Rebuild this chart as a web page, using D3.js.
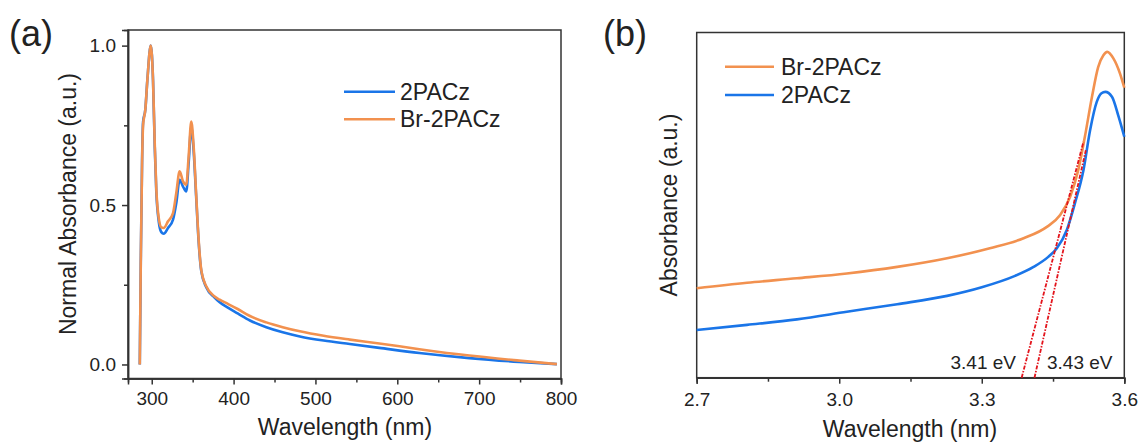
<!DOCTYPE html>
<html>
<head>
<meta charset="utf-8">
<title>Absorbance</title>
<script src="https://cdn.jsdelivr.net/npm/d3@7"></script>
<style>
  body { margin: 0; background: #fff; }
  svg { font-family: "Liberation Sans", Arial, sans-serif; }
  .axis path, .axis line { stroke: #333; stroke-width: 1.5; }
  .axis text { fill: #222; font-size: 19px; }
</style>
</head>
<body>
<div id="chart"></div>
<script>
// panel (a): normalised absorbance spectra
const wavelength = [285.4, 286.6, 288.2, 289.4, 292.2, 294.6, 298.8, 301.6, 303.7, 305.6, 308.5, 311.7, 314.6, 319.9, 326, 330, 334.1, 338.2, 342.2, 345.1, 348.3, 351.2, 354.4, 357.3, 360.5, 366.6, 376.8, 383, 393, 405, 420, 440, 460, 481, 510, 542, 578, 627, 688, 749, 795];
const abs2PACz = [0.0, 0.32, 0.64, 0.76, 0.80, 0.89, 1.0, 0.89, 0.68, 0.54, 0.45, 0.415, 0.41, 0.428, 0.454, 0.506, 0.579, 0.558, 0.543, 0.632, 0.745, 0.67, 0.52, 0.385, 0.293, 0.242, 0.21, 0.195, 0.178, 0.16, 0.138, 0.117, 0.101, 0.088, 0.075, 0.064, 0.052, 0.036, 0.020, 0.008, 0.001];
const absBr2PACz = [0.0, 0.32, 0.63, 0.75, 0.80, 0.89, 1.0, 0.89, 0.69, 0.55, 0.46, 0.43, 0.428, 0.449, 0.475, 0.538, 0.606, 0.574, 0.564, 0.653, 0.762, 0.684, 0.527, 0.391, 0.297, 0.245, 0.213, 0.203, 0.19, 0.174, 0.152, 0.132, 0.117, 0.104, 0.09, 0.078, 0.066, 0.048, 0.028, 0.012, 0.001];
const ticksA = [300, 400, 500, 600, 700, 800];

// panel (b): band edge region
const energyBr = [2.70, 2.806, 2.911, 3.016, 3.122, 3.227, 3.317, 3.388, 3.437, 3.465, 3.486, 3.503, 3.517, 3.532, 3.545, 3.556, 3.564, 3.577, 3.591, 3.60];
const edgeBr = [0.259, 0.275, 0.288, 0.302, 0.321, 0.346, 0.375, 0.404, 0.437, 0.471, 0.524, 0.601, 0.698, 0.814, 0.900, 0.934, 0.944, 0.925, 0.881, 0.84];
const energy2 = [2.70, 2.806, 2.911, 3.016, 3.122, 3.227, 3.30, 3.37, 3.409, 3.44, 3.458, 3.479, 3.496, 3.514, 3.528, 3.542, 3.552, 3.56, 3.574, 3.588, 3.60];
const edge2 = [0.138, 0.153, 0.169, 0.191, 0.213, 0.237, 0.262, 0.295, 0.321, 0.35, 0.375, 0.428, 0.505, 0.601, 0.717, 0.799, 0.824, 0.828, 0.814, 0.756, 0.698];
const tangentX = [[3.384, 3.514], [3.411, 3.519]];
const tangentY = [[0, 0.683], [0, 0.659]];
const gapLabels = ['3.41 eV', '3.43 eV'];
const ticksB = [2.7, 3.0, 3.3, 3.6];

const blue = '#1a75e8';
const orange = '#f2914f';

const svg = d3.select('#chart').append('svg')
  .attr('width', 1141)
  .attr('height', 443);

// ---------- (a) ----------
const xa = d3.scaleLinear().domain([271, 800]).range([128, 561]);
const ya = d3.scaleLinear().domain([-0.044, 1.049]).range([378.5, 30]);

svg.append('g').attr('class', 'axis')
  .attr('transform', 'translate(0,378.5)')
  .call(d3.axisBottom(xa).tickValues(d3.range(350, 800, 100)).tickSize(4).tickFormat(''));
svg.append('g').attr('class', 'axis')
  .attr('transform', 'translate(0,378.5)')
  .call(d3.axisBottom(xa).tickValues(ticksA).tickSize(6).tickPadding(7).tickFormat(d3.format('d')));
svg.append('g').attr('class', 'axis')
  .attr('transform', 'translate(128,0)')
  .call(d3.axisLeft(ya).tickValues([0.25, 0.75]).tickSize(4).tickFormat(''));
svg.append('g').attr('class', 'axis')
  .attr('transform', 'translate(128,0)')
  .call(d3.axisLeft(ya).tickValues([0, 0.5, 1.0]).tickSize(6).tickPadding(6).tickFormat(d3.format('.1f')));
svg.append('rect')
  .attr('x', 128).attr('y', 30).attr('width', 433).attr('height', 348.5)
  .attr('fill', 'none').attr('stroke', '#333').attr('stroke-width', 1.5);

const lineA = d3.line().curve(d3.curveMonotoneX)
  .x(d => xa(d[0])).y(d => ya(d[1]));
svg.append('path')
  .attr('d', lineA(d3.zip(wavelength, abs2PACz)))
  .attr('fill', 'none').attr('stroke', blue).attr('stroke-width', 2.6);
svg.append('path')
  .attr('d', lineA(d3.zip(wavelength, absBr2PACz)))
  .attr('fill', 'none').attr('stroke', orange).attr('stroke-width', 2.6);

const legA = [['2PACz', blue], ['Br-2PACz', orange]];
legA.forEach((d, i) => {
  const y = 91.7 + i * 27.5;
  svg.append('line').attr('x1', 344).attr('x2', 395).attr('y1', y).attr('y2', y)
    .attr('stroke', d[1]).attr('stroke-width', 2.6);
  svg.append('text').attr('x', 400).attr('y', y).attr('dy', '0.35em')
    .attr('font-size', 23).attr('fill', '#222').text(d[0]);
});

svg.append('text').attr('x', 345).attr('y', 435).attr('text-anchor', 'middle')
  .attr('font-size', 23).attr('fill', '#222').text('Wavelength (nm)');
svg.append('text').attr('transform', 'translate(76,204) rotate(-90)').attr('text-anchor', 'middle')
  .attr('font-size', 23).attr('fill', '#222').text('Normal Absorbance (a.u.)');
svg.append('text').attr('x', 9).attr('y', 46)
  .attr('font-size', 36).attr('fill', '#222').text('(a)');

// ---------- (b) ----------
const xb = d3.scaleLinear().domain([2.7, 3.6]).range([696.7, 1124.3]);
const yb = d3.scaleLinear().domain([0, 1]).range([377.7, 32.5]);

svg.append('g').attr('class', 'axis')
  .attr('transform', 'translate(0,377.7)')
  .call(d3.axisBottom(xb).tickValues([2.85, 3.15, 3.45]).tickSize(4).tickFormat(''));
svg.append('g').attr('class', 'axis')
  .attr('transform', 'translate(0,377.7)')
  .call(d3.axisBottom(xb).tickValues(ticksB).tickSize(6).tickPadding(9).tickFormat(d3.format('.1f')));
svg.append('rect')
  .attr('x', 696.7).attr('y', 32.5).attr('width', 427.6).attr('height', 345.2)
  .attr('fill', 'none').attr('stroke', '#333').attr('stroke-width', 1.5);

const lineB = d3.line().curve(d3.curveMonotoneX)
  .x(d => xb(d[0])).y(d => yb(d[1]));
svg.append('path')
  .attr('d', lineB(d3.zip(energyBr, edgeBr)))
  .attr('fill', 'none').attr('stroke', orange).attr('stroke-width', 2.6);
svg.append('path')
  .attr('d', lineB(d3.zip(energy2, edge2)))
  .attr('fill', 'none').attr('stroke', blue).attr('stroke-width', 2.6);

tangentX.forEach((xs, i) => {
  svg.append('line')
    .attr('x1', xb(xs[0])).attr('y1', yb(tangentY[i][0]))
    .attr('x2', xb(xs[1])).attr('y2', yb(tangentY[i][1]))
    .attr('stroke', '#e3141c').attr('stroke-width', 1.8)
    .attr('stroke-dasharray', '4,1.5,1.5,1.5');
});
svg.append('text').attr('x', 1016).attr('y', 369).attr('text-anchor', 'end')
  .attr('font-size', 19).attr('fill', '#222').text(gapLabels[0]);
svg.append('text').attr('x', 1047).attr('y', 369)
  .attr('font-size', 19).attr('fill', '#222').text(gapLabels[1]);

const legB = [['Br-2PACz', orange], ['2PACz', blue]];
legB.forEach((d, i) => {
  const y = 66.7 + i * 28.3;
  svg.append('line').attr('x1', 725).attr('x2', 774).attr('y1', y).attr('y2', y)
    .attr('stroke', d[1]).attr('stroke-width', 2.6);
  svg.append('text').attr('x', 781).attr('y', y).attr('dy', '0.35em')
    .attr('font-size', 23).attr('fill', '#222').text(d[0]);
});

svg.append('text').attr('x', 910).attr('y', 437).attr('text-anchor', 'middle')
  .attr('font-size', 23).attr('fill', '#222').text('Wavelength (nm)');
svg.append('text').attr('transform', 'translate(677,205) rotate(-90)').attr('text-anchor', 'middle')
  .attr('font-size', 23).attr('fill', '#222').text('Absorbance (a.u.)');
svg.append('text').attr('x', 603).attr('y', 46)
  .attr('font-size', 36).attr('fill', '#222').text('(b)');
</script>
</body>
</html>
